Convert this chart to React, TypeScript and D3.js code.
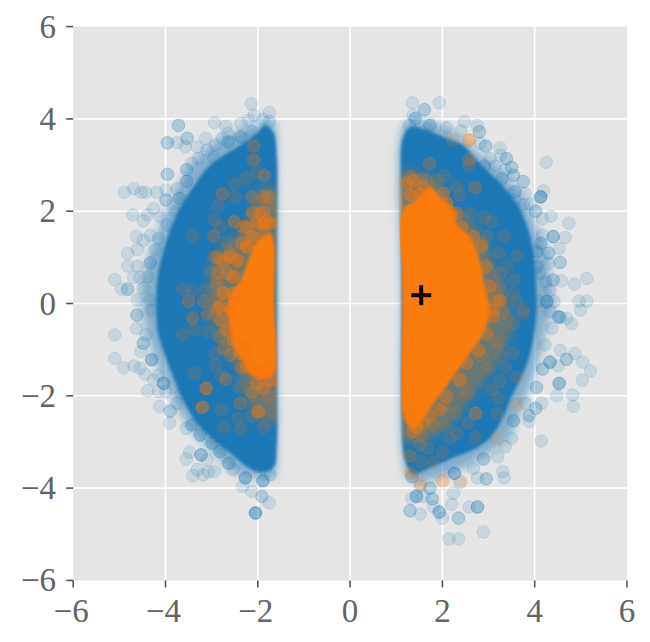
import React from "react";
import * as d3 from "d3";

type P = number[];
const tickValues = [-6, -4, -2, 0, 2, 4, 6];
const centerMark = [1.54, 0.18];

// outlines of the regions where the markers overlap to an opaque or half-opaque colour
const blueHaloLeft: P[] = [[-1.95,3.90],[-2.38,3.76],[-2.82,3.54],[-3.18,3.25],[-3.50,2.89],[-3.79,2.38],[-4.04,1.88],[-4.22,1.37],[-4.44,0.73],[-4.51,0.08],[-4.48,-0.36],[-4.33,-0.86],[-4.19,-1.29],[-3.93,-1.87],[-3.68,-2.38],[-3.39,-2.81],[-3.03,-3.17],[-2.67,-3.53],[-2.24,-3.75],[-1.66,-3.75],[-1.59,-3.2],[-1.59,0],[-1.59,3.2],[-1.66,3.95]];
const blueHaloRight: P[] = [[1.15,3.83],[1.37,3.97],[1.88,3.90],[2.38,3.61],[2.81,3.25],[3.25,2.89],[3.75,2.31],[4.04,1.66],[4.26,1.09],[4.33,0.51],[4.40,-0.07],[4.26,-0.50],[4.11,-1.15],[3.90,-1.80],[3.68,-2.38],[3.39,-2.95],[2.89,-3.32],[2.38,-3.60],[1.80,-3.82],[1.30,-3.82],[1.15,-3.39],[1.12,0]];
const blueCoreLeft: P[] = [[-1.84,3.86],[-2.02,3.69],[-2.38,3.43],[-2.74,3.21],[-3.10,2.93],[-3.40,2.52],[-3.68,2.09],[-3.90,1.59],[-4.08,1.01],[-4.18,0.51],[-4.2,-0.2],[-4.16,-0.64],[-4.03,-1.07],[-3.83,-1.59],[-3.62,-2.09],[-3.32,-2.59],[-2.96,-2.95],[-2.60,-3.24],[-2.24,-3.53],[-1.95,-3.66],[-1.66,-3.55],[-1.59,-3.1],[-1.59,-1.5],[-1.59,0],[-1.59,1.5],[-1.59,3.2],[-1.66,3.7]];
const blueCoreRight: P[] = [[1.15,3.61],[1.33,3.83],[1.66,3.76],[2.02,3.61],[2.45,3.43],[2.74,3.11],[3.03,2.82],[3.39,2.46],[3.65,2.10],[3.86,1.6],[3.97,1.1],[4.02,0.6],[4.04,0.1],[4.03,-0.36],[3.96,-0.8],[3.86,-1.22],[3.72,-1.58],[3.50,-2.02],[3.32,-2.45],[3.05,-2.9],[2.74,-3.13],[2.31,-3.31],[1.80,-3.53],[1.37,-3.68],[1.19,-3.39],[1.12,-2],[1.12,0],[1.12,2]];
const orangeHaloLeft: P[] = [[-1.62,2.5],[-2.0,2.45],[-2.2,1.9],[-2.6,1.35],[-2.95,1.05],[-3.0,0.58],[-3.05,0.15],[-3.05,-0.29],[-2.85,-0.65],[-2.65,-1.08],[-2.45,-1.44],[-2.3,-1.9],[-2.05,-2.45],[-1.62,-2.6],[-1.62,0]];
const orangeCoreLeft: P[] = [[-1.72,1.5],[-2.02,1.35],[-2.2,0.95],[-2.38,0.51],[-2.62,0.14],[-2.66,-0.2],[-2.60,-0.57],[-2.53,-0.94],[-2.32,-1.24],[-2.17,-1.54],[-1.89,-1.62],[-1.66,-1.55],[-1.64,0]];
const orangeHaloRight: P[] = [[1.12,2.85],[1.59,2.8],[2.02,2.53],[2.17,2.10],[2.60,1.81],[2.89,1.45],[3.10,0.87],[3.32,0.36],[3.5,-0.21],[3.5,-0.65],[3.18,-1.22],[2.89,-1.73],[2.53,-2.16],[2.17,-2.59],[1.59,-3.0],[1.16,-2.95],[1.12,0]];
const orangeCoreRight: P[] = [[1.15,2.06],[1.37,2.2],[1.73,2.53],[1.95,2.31],[2.3,1.98],[2.3,1.74],[2.60,1.45],[2.81,0.94],[2.92,0.37],[3.03,-0.14],[2.89,-0.65],[2.60,-1.08],[2.24,-1.58],[1.88,-2.08],[1.59,-2.5],[1.37,-2.72],[1.16,-2.45],[1.13,0]];

// individually readable markers: [x, y, how many overlap there]
const blueLeftUpper: P[] = [[-2.14,4.33],[-1.75,4.14],[-2.08,4.08],[-1.89,3.99],[-1.75,3.94],[-2.20,3.97],[-2.37,3.90],[-2.94,3.92],[-2.69,3.84],[-3.72,3.86,2],[-3.53,3.58,2],[-3.96,3.48,2],[-3.75,3.49],[-3.57,3.40],[-3.13,3.58],[-3.31,3.39],[-3.29,3.14],[-3.43,3.03],[-3.54,2.90,2],[-2.96,3.16],[-3.10,3.32],[-2.92,3.43],[-2.77,3.58],[-2.64,3.50,2],[-2.65,3.68],[-2.37,3.61,2],[-2.13,3.72],[-3.96,2.80,2],[-3.54,2.65,2],[-4.89,2.41],[-4.69,2.49],[-4.53,2.41],[-4.43,2.41],[-4.19,2.41],[-3.99,2.46],[-3.75,2.49],[-3.99,2.24,2],[-3.70,2.28,2],[-4.71,1.92],[-4.48,1.79],[-4.26,2.06],[-4.39,1.92],[-4.11,1.88],[-3.97,1.70],[-3.79,1.99],[-4.63,1.45],[-4.33,1.48],[-4.15,1.41],[-4.48,1.37],[-4.82,1.09],[-4.61,1.17],[-4.22,1.16],[-4.82,0.81],[-4.61,0.81],[-4.33,0.88,2],[-5.10,0.52],[-4.69,0.57],[-4.55,0.57],[-4.39,0.58],[-4.95,0.31],[-4.82,0.31,2],[-4.48,0.33],[-4.61,0.08],[-4.33,0.08],[-4.30,-0.14]];
const blueLeftLower: P[] = [[-4.62,-0.25,2],[-4.63,-0.54],[-5.10,-0.68],[-5.10,-1.19],[-4.91,-1.39],[-4.68,-1.35],[-4.55,-1.40],[-4.53,-1.04],[-4.48,-0.86,2],[-4.42,-0.68],[-4.30,-1.22,3],[-4.44,-1.53],[-4.26,-1.66],[-4.15,-1.55],[-4.04,-1.73,3],[-4.39,-1.89],[-4.15,-1.91],[-3.99,-1.91],[-4.13,-2.23],[-3.90,-2.33,2],[-3.91,-2.59],[-3.65,-1.94],[-3.75,-2.16],[-3.55,-2.70],[-3.43,-2.63,2],[-3.25,-2.85,2],[-3.48,-3.22],[-3.55,-3.37],[-3.23,-3.28,3],[-3.31,-3.60],[-3.41,-3.73],[-3.18,-3.71],[-3.07,-3.65],[-2.94,-3.64],[-3.10,-3.39],[-2.82,-3.21,2],[-2.99,-3.03,2],[-2.63,-3.46,2],[-2.53,-3.60],[-2.27,-3.78,3],[-2.33,-3.96],[-2.13,-4.07],[-1.89,-3.84,3],[-1.91,-4.18,2],[-1.75,-4.32],[-2.05,-4.54,4],[-1.73,-3.71]];
const blueRightUpper: P[] = [[1.35,4.35],[1.93,4.35],[1.61,4.20,2],[1.37,4.08],[1.41,4.01,2],[1.28,3.86],[1.73,3.86,2],[2.09,3.81],[2.48,3.94],[2.76,3.86],[2.80,3.72,2],[2.40,3.74],[2.82,3.47],[2.94,3.41,2],[3.25,3.37],[3.26,3.21],[3.39,3.14,2],[3.03,3.14],[3.14,2.98],[2.91,2.98,2],[3.50,2.95,2],[3.36,2.90],[3.54,2.78,2],[3.29,2.71,2],[3.75,2.64,2],[4.25,3.06],[4.19,2.44],[4.13,2.31,4],[3.57,2.42,2],[3.79,2.38],[3.57,2.24],[3.75,2.13],[3.90,2.15],[4.02,2.00,2],[4.17,1.84],[4.35,1.89],[4.74,1.74],[4.66,1.43],[4.40,1.45,3],[4.17,1.48],[4.13,1.30,2],[4.53,1.19],[4.30,1.09,2],[4.55,0.89,2],[4.04,1.12,2],[4.04,0.80,2],[4.30,0.87],[5.13,0.54],[4.86,0.42],[4.58,0.49],[4.40,0.51,2],[4.24,0.47],[4.33,0.29],[4.11,0.65],[5.13,0.05],[4.96,0.05],[4.99,-0.14],[4.42,0.04],[4.26,0.04,3],[4.08,0.04],[4.33,-0.18]];
const blueRightLower: P[] = [[4.51,-0.29,2],[4.69,-0.32],[4.55,-0.30,2],[4.80,-0.44],[4.37,-0.54],[4.22,-0.90],[4.55,-1.01],[4.87,-1.08],[4.69,-1.21,2],[5.04,-1.27],[5.21,-1.46],[5.03,-1.66],[4.82,-1.98],[4.84,-2.23],[4.53,-1.73,3],[4.48,-2.00],[4.33,-1.27,3],[4.51,-1.35],[4.17,-1.42,2],[4.04,-1.82,2],[4.15,-2.16],[4.02,-2.27,2],[3.88,-2.43,2],[3.88,-2.56],[3.79,-2.16],[4.14,-2.98],[3.54,-2.54,2],[3.50,-2.92],[3.36,-3.10],[3.20,-3.32],[3.31,-3.64],[3.34,-3.78],[2.95,-3.80,2],[2.76,-3.78],[2.89,-3.37,2],[2.67,-3.57],[2.26,-3.68,3],[2.38,-3.88],[2.24,-4.11],[2.20,-4.35],[2.58,-4.41],[2.76,-4.41,3],[2.35,-4.65,2],[1.93,-4.52,3],[2.00,-4.65],[1.52,-4.56],[1.30,-4.49,2],[1.80,-4.40],[1.34,-4.22],[1.44,-4.18,3],[1.78,-4.23,2],[1.59,-4.18],[1.73,-4.00,2],[1.52,-3.96],[1.34,-3.75,2],[2.89,-4.95],[2.14,-5.10],[2.35,-5.10]];
const orangeLeftUpper: P[] = [[-2.09,3.41,2],[-2.09,3.11,2],[-1.86,2.78,2],[-2.02,2.85],[-2.25,2.72],[-2.50,2.60],[-2.77,2.37,2],[-2.50,2.31],[-2.13,2.31,2],[-1.87,2.31,2],[-1.77,2.31,2],[-2.87,2.11],[-2.11,1.97,3],[-1.87,1.99,2],[-1.73,2.06],[-2.94,1.82],[-2.51,1.77,3],[-2.32,1.66,2],[-2.815,1.66],[-1.82,1.81,2],[-3.41,1.46],[-2.95,1.46,2],[-2.35,1.31,3],[-2.67,1.35],[-1.87,1.52,3],[-2.96,1.01],[-2.60,1.09,2],[-2.81,0.94],[-2.38,0.94],[-3.03,0.69],[-2.87,0.67,2],[-2.49,0.69],[-3.63,0.31],[-3.41,0.27],[-3.13,0.31],[-3.50,0.05],[-3.18,0.05],[-2.89,0.15],[-2.74,0.22],[-2.89,-0.10],[-3.41,-0.30],[-3.10,-0.21]];
const orangeLeftLower: P[] = [[-3.50,0.04],[-3.16,0.04],[-2.87,-0.10,2],[-3.41,-0.32],[-3.10,-0.25],[-3.37,-0.56],[-3.63,-0.68],[-3.08,-0.61],[-2.83,-0.72,2],[-2.92,-1.08],[-2.74,-0.97,2],[-2.60,-1.11,2],[-2.92,-1.33],[-3.37,-1.51],[-2.79,-1.57],[-2.69,-1.64,2],[-3.12,-1.84,4],[-3.20,-2.25,4],[-2.79,-2.30],[-2.40,-1.82],[-2.38,-2.16,2],[-2.13,-1.93,2],[-1.99,-2.34,4],[-2.43,-2.49],[-2.74,-2.67],[-2.37,-2.72],[-1.88,-2.68],[-2.13,-2.45],[-1.73,-1.42,3],[-1.88,-1.84,3],[-2.36,-1.40,2],[-2.02,-1.44,2],[-1.77,-2.02],[-2.24,-1.15,2]];
const orangeRightUpper: P[] = [[2.58,3.54,3],[2.22,3.54],[1.72,3.03,2],[2.58,3.12,2],[2.58,3.0],[2.04,2.77],[2.71,2.51,2],[2.30,2.53],[2.38,2.35],[1.54,2.71],[1.30,2.75],[1.41,2.53],[1.66,2.67],[1.88,2.67],[1.37,2.31],[2.89,1.87],[2.60,1.95],[3.07,1.77],[3.34,1.46],[2.98,1.45],[2.85,1.30],[3.23,1.10],[3.62,1.03],[3.39,0.80],[3.55,0.51],[3.25,0.65],[3.25,0.36],[3.03,0.22],[3.18,0.04],[3.54,0.22],[3.75,-0.14],[3.61,0.04],[3.32,-0.21]];
const orangeRightLower: P[] = [[3.16,0.04],[3.75,-0.21],[3.55,-0.43],[3.21,-0.86],[3.25,-1.14],[3.52,-1.08],[2.83,-1.11],[3.02,-1.40],[3.36,-1.39],[3.25,-1.68],[3.61,-1.60],[3.08,-1.87],[3.21,-2.05],[3.61,-2.20],[3.19,-2.38],[2.72,-2.38,3],[2.54,-1.94],[2.38,-1.66],[2.31,-2.38],[2.56,-2.58],[2.02,-2.23],[1.80,-2.63],[2.06,-2.65],[1.44,-2.67],[1.30,-2.81],[1.55,-2.85],[1.52,-3.06],[1.68,-3.13],[2.00,-3.23],[1.80,-3.44],[1.30,-3.30,2],[1.53,-3.42],[1.31,-3.68,2],[1.53,-3.91,2],[2.00,-3.84,2],[2.40,-3.86],[2.71,-2.90],[3.19,-2.92],[2.17,-2.92],[2.31,-2.81]];
const orangeEdgeLeft: P[] = [[-2.89,1.01,2],[-2.74,0.91,3],[-2.60,1.01,3],[-2.45,0.94,4],[-2.67,0.65,3],[-2.53,0.58,4],[-2.89,0.44,2],[-2.74,0.22,4],[-2.53,0.22,5],[-2.81,-0.07,3],[-2.60,-0.14,5],[-2.24,1.66,3],[-2.02,1.74,4],[-1.87,1.74,5],[-1.73,1.74,5],[-2.13,1.45,5],[-1.95,1.95,3],[-2.24,1.23,5],[-2.67,-0.57,4],[-2.53,-0.79,4],[-2.81,-0.36,3],[-2.38,-1.08,4],[-2.24,-1.37,3],[-1.95,-1.51,5],[-2.24,-0.93,5],[-1.73,-1.66,5],[-2.02,-1.73,3]];
const orangeEdgeRight: P[] = [[1.23,2.60,3],[1.37,2.67,3],[1.59,2.53,3],[1.30,2.35,4],[1.52,2.38,4],[2.02,2.39,3],[2.09,2.17,4],[2.31,1.95,3],[2.42,1.66,3],[2.67,1.45,3],[2.85,1.23,3],[2.96,0.80,3],[3.03,0.37,3],[3.25,0.07,3],[3.10,-0.14,3],[3.10,-0.28,3],[2.96,-0.65,3],[2.78,-1.01,3],[2.53,-1.29,3],[2.38,-1.66,3],[2.09,-2.02,3],[1.95,-2.30,3],[1.73,-2.45,3],[1.44,-2.67,3],[1.59,-2.59,3],[1.30,-2.45,3],[1.37,-2.77,2]];

const BLUE = "#1f77b4";
const ORANGE = "#f97b0c";
const INK = "#636363";
const W = 650, H = 642;
const x = d3.scaleLinear().domain([-6, 6]).range([73.2, 627]);
const y = d3.scaleLinear().domain([-6, 6]).range([580.4, 26.6]);
const outline = d3.line<P>().x(d => x(d[0])).y(d => y(d[1])).curve(d3.curveCatmullRomClosed.alpha(0.5));
const label = (v: number) => (v < 0 ? "\u2212" + Math.abs(v) : String(v));

function Markers({ data, color }: { data: P[]; color: string }) {
  const expanded = data.flatMap(d => d3.range(d[2] ?? 1).map(() => d));
  return (
    <g fill={color} stroke={color} fillOpacity={0.14} strokeOpacity={0.14} strokeWidth={1}>
      {expanded.map((d, i) => <circle key={i} cx={x(d[0])} cy={y(d[1])} r={6.3} />)}
    </g>
  );
}

export default function App() {
  const font = { fontFamily: "'Liberation Serif', serif", fontSize: 33, fill: INK };
  const m = [x(centerMark[0]), y(centerMark[1])];
  return (
    <svg width={W} height={H} viewBox={`0 0 ${W} ${H}`} style={{ position: "absolute", left: 0, top: 0, display: "block" }}>
      <defs>
        <filter id="soft" filterUnits="userSpaceOnUse" x={0} y={0} width={W} height={H}><feGaussianBlur stdDeviation={1.8} /></filter>
        <filter id="softer" filterUnits="userSpaceOnUse" x={0} y={0} width={W} height={H}><feGaussianBlur stdDeviation={4} /></filter>
        <clipPath id="blobs">
          <path d={outline(blueHaloLeft) ?? ""} />
          <path d={outline(blueHaloRight) ?? ""} />
        </clipPath>
      </defs>
      <rect x={x(-6)} y={y(6)} width={x(6) - x(-6)} height={y(-6) - y(6)} fill="#e5e5e5" />
      <g stroke="#ffffff" strokeWidth={1.6}>
        {tickValues.slice(1, -1).map(t => (
          <g key={t}>
            <line x1={x(t)} x2={x(t)} y1={y(6)} y2={y(-6)} />
            <line x1={x(-6)} x2={x(6)} y1={y(t)} y2={y(t)} />
          </g>
        ))}
      </g>
      <g stroke="#555555" strokeWidth={1.6}>
        {tickValues.map(t => (
          <g key={t}>
            <line x1={x(t)} x2={x(t)} y1={y(-6)} y2={y(-6) + 7} />
            <line x1={x(-6) - 7} x2={x(-6)} y1={y(t)} y2={y(t)} />
          </g>
        ))}
      </g>
      <g style={font}>
        {tickValues.map(t => (
          <g key={t}>
            <text x={x(t) - (t < 0 ? 2 : 0)} y={622} textAnchor="middle">{label(t)}</text>
            <text x={56} y={y(t) + 11} textAnchor="end">{label(t)}</text>
          </g>
        ))}
      </g>
      <g fill={BLUE} fillOpacity={0.5} filter="url(#softer)">
        <path d={outline(blueHaloLeft) ?? ""} />
        <path d={outline(blueHaloRight) ?? ""} />
      </g>
      <g fill={BLUE} filter="url(#soft)">
        <path d={outline(blueCoreLeft) ?? ""} />
        <path d={outline(blueCoreRight) ?? ""} />
      </g>
      <Markers data={blueLeftUpper} color={BLUE} />
      <Markers data={blueLeftLower} color={BLUE} />
      <Markers data={blueRightUpper} color={BLUE} />
      <Markers data={blueRightLower} color={BLUE} />
      <g clipPath="url(#blobs)">
        <g fill={ORANGE} fillOpacity={0.35} filter="url(#softer)">
          <path d={outline(orangeHaloLeft) ?? ""} />
          <path d={outline(orangeHaloRight) ?? ""} />
        </g>
        <g fill={ORANGE} filter="url(#soft)">
          <path d={outline(orangeCoreLeft) ?? ""} />
          <path d={outline(orangeCoreRight) ?? ""} />
        </g>
      </g>
      <Markers data={orangeEdgeLeft} color={ORANGE} />
      <Markers data={orangeEdgeRight} color={ORANGE} />
      <Markers data={orangeLeftUpper} color={ORANGE} />
      <Markers data={orangeLeftLower} color={ORANGE} />
      <Markers data={orangeRightUpper} color={ORANGE} />
      <Markers data={orangeRightLower} color={ORANGE} />
      <g stroke="#000000" strokeWidth={4}>
        <line x1={m[0] - 10} x2={m[0] + 10} y1={m[1]} y2={m[1]} />
        <line x1={m[0]} x2={m[0]} y1={m[1] - 10} y2={m[1] + 10} />
      </g>
    </svg>
  );
}
